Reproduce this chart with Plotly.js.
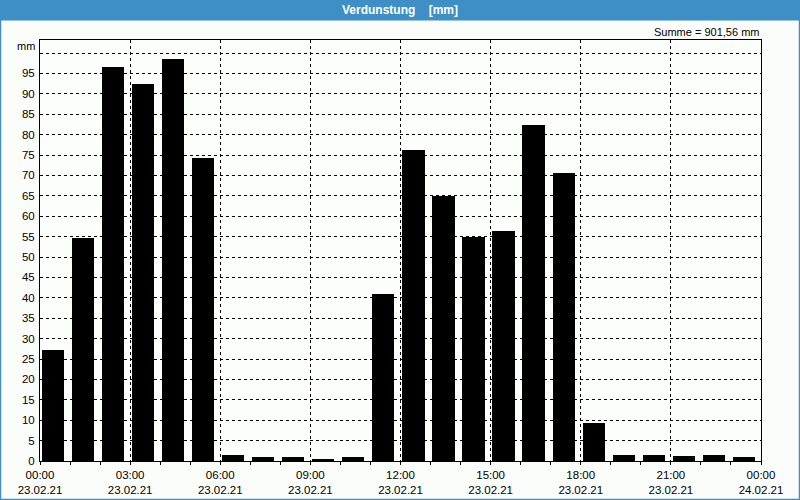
<!DOCTYPE html>
<html>
<head>
<meta charset="utf-8">
<script src="https://cdn.plot.ly/plotly-3.0.1.min.js"></script>
<style>
html,body{margin:0;padding:0;background:#fbfdfb;}
#chart{width:800px;height:500px;}
</style>
</head>
<body>
<div id="chart"></div>
<script>
// Hourly evaporation (mm), 23.02.21 00:00 .. 24.02.21 00:00
const hours = [0,1,2,3,4,5,6,7,8,9,10,11,12,13,14,15,16,17,18,19,20,21,22,23];
const values = [27.2,54.7,96.6,92.4,98.5,74.3,1.5,1.0,1.0,0.5,1.0,40.9,
                76.2,65.0,55.0,56.4,82.4,70.6,9.4,1.5,1.5,1.3,1.5,1.0];
const tickHours = [0,3,6,9,12,15,18,21,24];
const tickLabels = ["00:00<br>23.02.21","03:00<br>23.02.21","06:00<br>23.02.21",
  "09:00<br>23.02.21","12:00<br>23.02.21","15:00<br>23.02.21","18:00<br>23.02.21",
  "21:00<br>23.02.21","00:00<br>24.02.21"];
const yTickVals = [0,5,10,15,20,25,30,35,40,45,50,55,60,65,70,75,80,85,90,95,100];
const yTickText = yTickVals.map(v => v === 100 ? "" : String(v));
const titleText = "Verdunstung\u00a0\u00a0\u00a0\u00a0[mm]";
const sumText = "Summe = 901,56 mm";

const W = 800, H = 500;
const m = {l: 40, r: 39, t: 40, b: 39};
const pw = W - m.l - m.r, ph = H - m.t - m.b;
const px = v => (v - m.l) / pw;
const py = v => 1 - (v - m.t) / ph;
const blue = "#3d8fc6";
const font = "Liberation Sans, Arial, sans-serif";

const trace = {
  type: "bar",
  x: hours.map(h => h + 0.43),
  y: values,
  width: 0.74,
  marker: {color: "#000000", line: {width: 0}},
  hoverinfo: "skip"
};

const layout = {
  width: W, height: H,
  margin: m,
  paper_bgcolor: "#fbfdfb",
  plot_bgcolor: "#fcfefc",
  showlegend: false,
  bargap: 0,
  font: {family: font, size: 11, color: "#000"},
  xaxis: {
    range: [0, 24],
    tickmode: "array",
    tickvals: tickHours,
    ticktext: tickLabels,
    ticks: "outside", ticklen: 3, tickcolor: "#000",
    minor: {tickmode: "linear", tick0: 0, dtick: 1, ticks: "outside", ticklen: 3, tickcolor: "#000", showgrid: false},
    showgrid: true, gridcolor: "#000", gridwidth: 1, griddash: "3px,3px",
    showline: true, linecolor: "#000", linewidth: 1, mirror: true,
    zeroline: false,
    tickfont: {family: font, size: 11.5, color: "#000"},
    fixedrange: true
  },
  yaxis: {
    range: [0, 103.2],
    tickmode: "array",
    tickvals: yTickVals,
    ticktext: yTickText,
    ticks: "",
    ticklabelstandoff: 2,
    showgrid: true, gridcolor: "#000", gridwidth: 1, griddash: "3px,3px",
    showline: true, linecolor: "#000", linewidth: 1, mirror: true,
    zeroline: false,
    tickfont: {family: font, size: 11.5, color: "#000"},
    fixedrange: true
  },
  shapes: [
    {type: "rect", xref: "paper", yref: "paper", layer: "below",
     x0: px(0), x1: px(W), y0: py(0), y1: py(20.5),
     fillcolor: blue, line: {width: 0}},
    {type: "rect", xref: "paper", yref: "paper", layer: "above",
     x0: px(0.5), x1: px(W - 0.5), y0: py(0.5), y1: py(H - 0.5),
     fillcolor: "rgba(0,0,0,0)", line: {color: blue, width: 1.5}}
  ],
  annotations: [
    {text: "<b>" + titleText + "</b>", xref: "paper", yref: "paper",
     x: px(400), y: py(10), xanchor: "center", yanchor: "middle",
     showarrow: false, font: {family: font, size: 12, color: "#ffffff"}},
    {text: sumText, xref: "paper", yref: "paper",
     x: 1, y: py(32), xanchor: "right", yanchor: "middle",
     showarrow: false, font: {family: font, size: 11, color: "#000"}},
    {text: "mm", xref: "paper", yref: "paper",
     x: px(37), y: py(46), xanchor: "right", yanchor: "middle",
     showarrow: false, font: {family: font, size: 11, color: "#000"}}
  ]
};

Plotly.newPlot("chart", [trace], layout, {displayModeBar: false, staticPlot: true});
</script>
</body>
</html>
